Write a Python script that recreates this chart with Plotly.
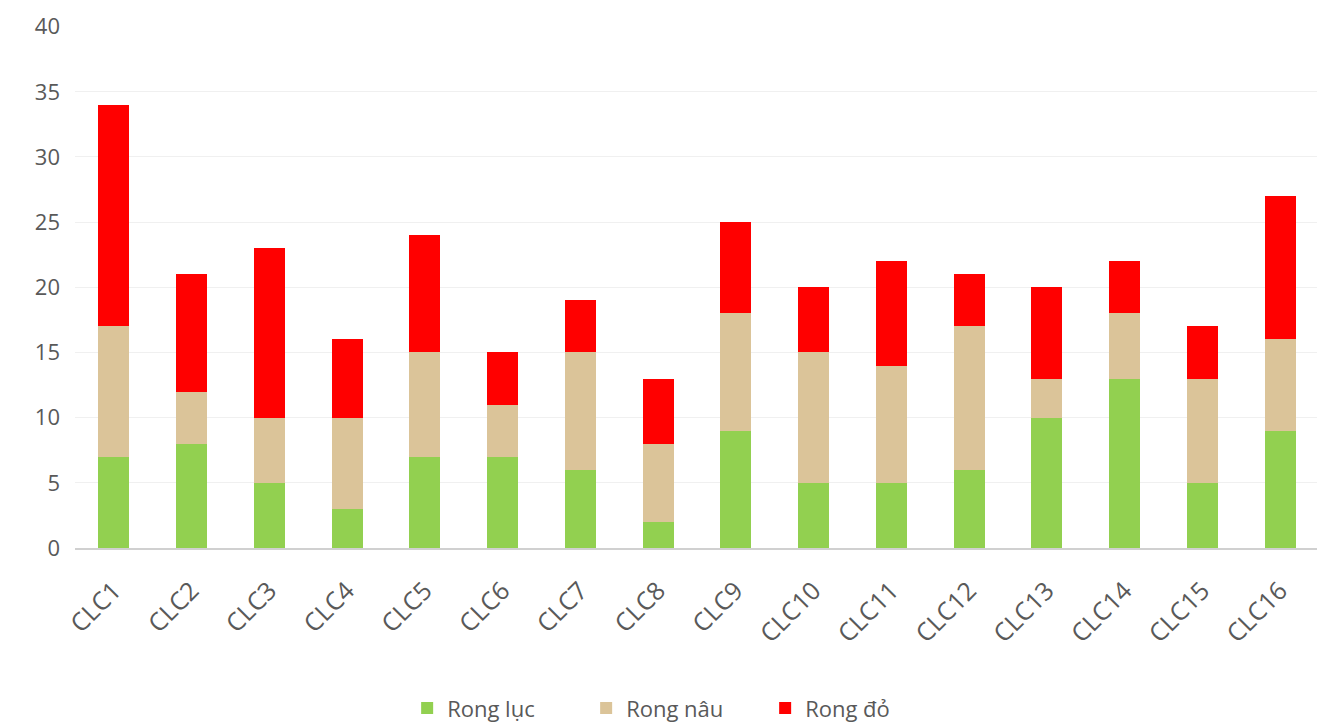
import plotly.graph_objects as go

categories = ["CLC1", "CLC2", "CLC3", "CLC4", "CLC5", "CLC6", "CLC7", "CLC8",
              "CLC9", "CLC10", "CLC11", "CLC12", "CLC13", "CLC14", "CLC15", "CLC16"]
rong_luc = [7, 8, 5, 3, 7, 7, 6, 2, 9, 5, 5, 6, 10, 13, 5, 9]
rong_nau = [10, 4, 5, 7, 8, 4, 9, 6, 9, 10, 9, 11, 3, 5, 8, 7]
rong_do = [17, 9, 13, 6, 9, 4, 4, 5, 7, 5, 8, 4, 7, 4, 4, 11]

series = [
    ("Rong lục", rong_luc, "#92D050"),
    ("Rong nâu", rong_nau, "#DBC499"),
    ("Rong đỏ", rong_do, "#FF0000"),
]

fig = go.Figure()
for name, vals, color in series:
    fig.add_trace(go.Bar(x=categories, y=vals, name=name, marker_color=color,
                         marker_line_width=0))

fig.update_layout(
    barmode="stack",
    bargap=0.6,
    width=1325, height=724,
    margin=dict(l=67, r=14, t=18, b=184),
    paper_bgcolor="white",
    plot_bgcolor="white",
    font=dict(family="Open Sans", color="#595959", size=20),
    legend=dict(orientation="h", x=0.267, xanchor="left",
                yref="container", y=0.033, yanchor="middle",
                font=dict(size=22, color="#595959"), traceorder="normal",
                entrywidth=134, entrywidthmode="pixels"),
    showlegend=True,
)
fig.update_xaxes(tickangle=-45, tickfont=dict(size=25, color="#595959"),
                 showline=True, linecolor="#D0D0D0", linewidth=2, ticks="",
                 automargin=False, ticklabelstandoff=16)
fig.update_yaxes(range=[0, 40.05], dtick=5, showgrid=True, gridcolor="#F0F0F0",
                 gridwidth=1, zeroline=False, tickfont=dict(size=22, color="#595959"),
                 ticks="", ticklabelstandoff=14, automargin=False)

fig.write_html("out.html")
